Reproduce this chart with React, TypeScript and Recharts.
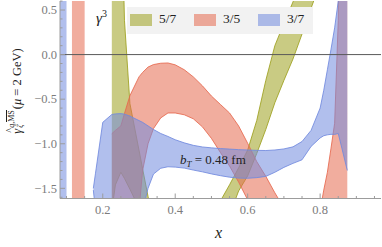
import React from 'react';
import { ComposedChart, Area, XAxis, YAxis, ReferenceLine, Legend } from 'recharts';

// x grid shared by the three bands (null = band not drawn there)
const xs = [
	0.082, 0.1, 0.115, 0.15, 0.174, 0.18, 0.2, 0.225, 0.235, 0.25, 0.26, 0.275, 0.3, 0.31, 0.325, 0.34, 0.36, 0.38, 0.4,
	0.425, 0.45, 0.475, 0.5, 0.525, 0.55, 0.575, 0.6, 0.625, 0.65, 0.675, 0.7, 0.725, 0.75, 0.775, 0.8, 0.81, 0.82, 0.83,
	0.84, 0.85, 0.86, 0.875,
];

// 5/7
const oliveLow = [
	null, null, null, null, null, null, null, -1.75, -1.46, -1.32, -1.39, -1.51, -1.72, -1.8, -1.95, -2.1, -2.3, -2.5, -2.6,
	-2.7, -2.75, -2.8, -2.8, -2.3, -1.8, -1.53, -1.36, -1.11, -0.84, -0.54, -0.29, -0.05, 0.23, 0.52, 0.8, 0.9, 1.0, 1.1,
	1.2, 1.3, 1.4, 1.6,
];
const oliveHigh = [
	null, null, null, null, null, null, null, 5, 5, 2, 0.38, -0.55, -1.07, -1.28, -1.59, -1.9, -2.1, -2.3, -2.4, -2.5, -2.5,
	-2.45, -2.3, -1.64, -1.46, -1.27, -1.07, -0.74, -0.29, 0.1, 0.35, 0.59, 0.85, 1.1, 1.4, 1.5, 1.6, 1.7, 1.8, 1.9, 2.0,
	2.2,
];

// 3/5
const redLow = [
	null, null, -5, -5, null, null, null, -3, -3, -3, -3, -3, -1.75, -1.3, -1.0, -0.83, -0.71, -0.655, -0.655, -0.675,
	-0.72, -0.81, -0.94, -1.1, -1.25, -1.43, -1.63, -1.9, -2.2, -2.5, -2.8, null, null, null, -5, -5, -5, -5, -5, -5, -5,
	-5,
];
const redHigh = [
	null, null, 5, 5, null, null, null, -0.887, -0.85, -0.8, -0.66, -0.46, -0.25, -0.2, -0.14, -0.112, -0.097, -0.094,
	-0.115, -0.17, -0.25, -0.35, -0.465, -0.56, -0.655, -0.8, -0.995, -1.2, -1.365, -1.55, -1.72, null, null, null, -1.75,
	-1.52, -1.32, -1.05, -0.77, 0.38, 5, 5,
];

// 3/7
const blueLow = [
	-5, -5, null, null, -1.52, -1.75, -3, -3, -3, -3, -3, -3, -2.6, -1.75, -1.5, -1.34, -1.275, -1.258, -1.262, -1.273,
	-1.295, -1.315, -1.338, -1.358, -1.375, -1.385, -1.387, -1.38, -1.366, -1.32, -1.265, -1.22, -1.18, -1.03, -0.935,
	-0.91, -0.9, -0.894, -0.895, -0.885, -1.05, -1.3,
];
const blueHigh = [
	5, 5, null, null, -1.5, -1.33, -0.76, -0.672, -0.665, -0.662, -0.668, -0.69, -0.74, -0.76, -0.8, -0.84, -0.885, -0.918,
	-0.955, -0.99, -1.018, -1.036, -1.046, -1.054, -1.06, -1.066, -1.07, -1.074, -1.076, -1.07, -1.058, -1.035, -0.975,
	-0.85, -0.6, -0.4, -0.17, 0.06, 0.3, 0.6, 3, 5,
];

const xTicks = [0.1, 0.15, 0.2, 0.25, 0.3, 0.35, 0.4, 0.45, 0.5, 0.55, 0.6, 0.65, 0.7, 0.75, 0.8, 0.85, 0.9, 0.95];
const xLabels = [0.2, 0.4, 0.6, 0.8];
const yTicks = [-1.6, -1.5, -1.4, -1.3, -1.2, -1.1, -1.0, -0.9, -0.8, -0.7, -0.6, -0.5, -0.4, -0.3, -0.2, -0.1, 0, 0.1, 0.2, 0.3, 0.4, 0.5, 0.6];
const yLabels = [-1.5, -1.0, -0.5, 0, 0.5];

const series = [
	{ key: 'b57', name: '5/7', low: oliveLow, high: oliveHigh, color: '#9da01e' },
	{ key: 'b35', name: '3/5', low: redLow, high: redHigh, color: '#e6694f' },
	{ key: 'b37', name: '3/7', low: blueLow, high: blueHigh, color: '#718ade' },
];

const data = xs.map((x, i) => {
	const row: any = { x };
	series.forEach((s) => {
		row[s.key] = s.low[i] == null || s.high[i] == null ? null : [s.low[i], s.high[i]];
	});
	return row;
});

const FRAME = '#9c9c9c';
const TICK_TEXT = '#7c7c7c';
const FONT = "'Liberation Serif', 'DejaVu Serif', serif";

const near = (list: number[], v: number) => list.some((m) => Math.abs(m - v) < 1e-6);
const fmt = (v: number) => (v < 0 ? '\u2212' : '') + Math.abs(v).toFixed(1);

const BottomTick = (props: any) => {
	const { x, y, payload } = props;
	const major = near(xLabels, payload.value);
	return (
		<g>
			<line x1={x} x2={x} y1={y} y2={y - (major ? 5 : 2.5)} stroke={FRAME} />
			{major && (
				<text x={x} y={y + 15} textAnchor='middle' fill={TICK_TEXT} fontSize={12.5} fontFamily={FONT}>
					{fmt(payload.value)}
				</text>
			)}
		</g>
	);
};

const TopTick = (props: any) => {
	const { x, y, payload } = props;
	const major = near(xLabels, payload.value);
	return <line x1={x} x2={x} y1={y} y2={y + (major ? 5 : 2.5)} stroke={FRAME} />;
};

const LeftTick = (props: any) => {
	const { x, y, payload } = props;
	const major = near(yLabels, payload.value);
	return (
		<g>
			<line x1={x} x2={x + (major ? 5 : 2.5)} y1={y} y2={y} stroke={FRAME} />
			{major && (
				<text x={x - 3} y={y + 4.3} textAnchor='end' fill={TICK_TEXT} fontSize={12.5} fontFamily={FONT}>
					{fmt(payload.value)}
				</text>
			)}
		</g>
	);
};

const RightTick = (props: any) => {
	const { x, y, payload } = props;
	const major = near(yLabels, payload.value);
	return <line x1={x} x2={x - (major ? 5 : 2.5)} y1={y} y2={y} stroke={FRAME} />;
};

const LegendBox = () => (
	<div style={{ position: 'relative', width: 186, height: 27, background: '#f2f2f2', fontFamily: FONT }}>
		{series.map((s, i) => (
			<div key={s.key} style={{ position: 'absolute', left: 3 + i * 64, top: 0, height: 27 }}>
				<div
					style={{ position: 'absolute', left: 0, top: 6.5, width: 22, height: 12, background: s.color, opacity: 0.55 }}
				/>
				<span style={{ position: 'absolute', left: 29, top: 4, fontSize: 13.5, lineHeight: '16px', color: '#222' }}>
					{s.name}
				</span>
			</div>
		))}
	</div>
);

// y-axis label, rotated box centred at (17, 91)
const YLabel = () => (
	<div
		style={{
			position: 'absolute',
			left: 17 - 60,
			top: 91 - 10,
			width: 120,
			height: 20,
			transform: 'rotate(-90deg)',
			transformOrigin: '50% 50%',
			fontFamily: FONT,
			fontSize: 12.5,
			color: '#222',
			whiteSpace: 'nowrap',
			display: 'flex',
			alignItems: 'center',
			justifyContent: 'center',
		}}
	>
		<span style={{ position: 'relative', fontStyle: 'italic' }}>
			γ
			<span style={{ position: 'absolute', left: 1, top: -6, fontStyle: 'normal', fontSize: 10 }}>^</span>
		</span>
		<span
			style={{
				display: 'inline-flex',
				flexDirection: 'column',
				fontSize: 8,
				lineHeight: '9px',
				marginLeft: 1,
				marginTop: -2,
			}}
		>
			<span>
				<i>q</i>,<span style={{ borderTop: '0.8px solid #222', lineHeight: '8px' }}>MS</span>
			</span>
			<i>ζ</i>
		</span>
		<span style={{ marginLeft: 1 }}>
			(<i>μ</i> = 2 GeV)
		</span>
	</div>
);

export default function App() {
	return (
		<div style={{ position: 'absolute', left: 0, top: 0, width: 382, height: 247, background: '#fff' }}>
			<ComposedChart width={382} height={247} data={data} margin={{ top: 1, right: 1, bottom: 0, left: 0 }}>
				{series.map((s) => (
					<Area
						key={s.key}
						dataKey={s.key}
						name={s.name}
						type='linear'
						fill={s.color}
						fillOpacity={0.55}
						stroke={s.color}
						strokeOpacity={0.85}
						strokeWidth={1}
						dot={false}
						activeDot={false}
						isAnimationActive={false}
					/>
				))}
				<ReferenceLine y={0} stroke='#5a5a5a' strokeWidth={1} />
				<XAxis
					dataKey='x'
					type='number'
					domain={[0.082, 0.968]}
					allowDataOverflow
					ticks={xTicks}
					interval={0}
					height={48.5}
					tickSize={0}
					tickMargin={0}
					tickLine={false}
					axisLine={{ stroke: FRAME }}
					tick={<BottomTick />}
				/>
				<XAxis
					xAxisId='top'
					orientation='top'
					dataKey='x'
					type='number'
					domain={[0.082, 0.968]}
					allowDataOverflow
					ticks={xTicks}
					interval={0}
					height={0}
					tickSize={0}
					tickMargin={0}
					tickLine={false}
					axisLine={{ stroke: FRAME }}
					tick={<TopTick />}
				/>
				<YAxis
					type='number'
					domain={[-1.614, 0.601]}
					allowDataOverflow
					ticks={yTicks}
					interval={0}
					width={60}
					tickSize={0}
					tickMargin={0}
					tickLine={false}
					axisLine={{ stroke: FRAME }}
					tick={<LeftTick />}
				/>
				<YAxis
					yAxisId='right'
					orientation='right'
					type='number'
					domain={[-1.614, 0.601]}
					allowDataOverflow
					ticks={yTicks}
					interval={0}
					width={0}
					tickSize={0}
					tickMargin={0}
					tickLine={false}
					axisLine={{ stroke: FRAME }}
					tick={<RightTick />}
				/>
				<Legend
					layout='horizontal'
					verticalAlign='middle'
					align='center'
					wrapperStyle={{ left: 127, top: 7, width: 186, height: 27 }}
					content={<LegendBox />}
				/>
			</ComposedChart>

			{/* annotations */}
			<div style={{ position: 'absolute', left: 96, top: 8, fontFamily: FONT, fontSize: 15, fontStyle: 'italic', color: '#222' }}>
				γ<sup style={{ fontSize: 10, fontStyle: 'normal', verticalAlign: 6 }}>3</sup>
			</div>
			<div style={{ position: 'absolute', left: 180, top: 152, fontFamily: FONT, fontSize: 13, color: '#222', whiteSpace: 'nowrap' }}>
				<i>b</i>
				<sub style={{ fontSize: 9, fontStyle: 'italic', verticalAlign: -3 }}>T</sub> = 0.48 fm
			</div>
			<div style={{ position: 'absolute', left: 215, top: 224, fontFamily: FONT, fontSize: 16, fontStyle: 'italic', color: '#222' }}>
				x
			</div>
			<YLabel />
		</div>
	);
}
